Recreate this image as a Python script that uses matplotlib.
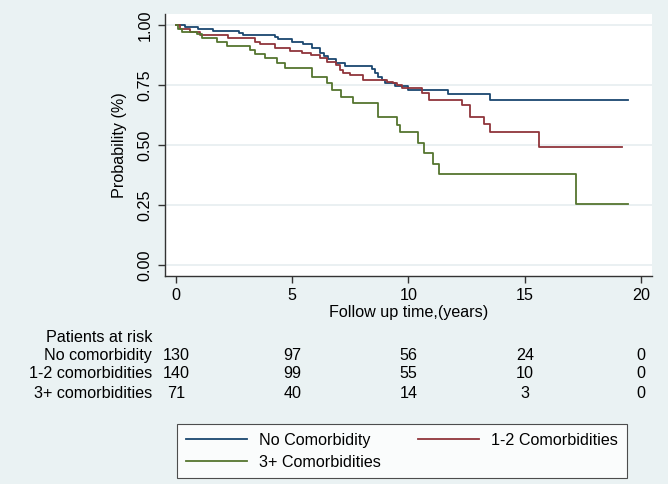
import matplotlib
matplotlib.use("Agg")
import matplotlib.pyplot as plt
from matplotlib.transforms import blended_transform_factory

plt.rcParams['font.family'] = ['Liberation Sans', 'DejaVu Sans']

# Kaplan-Meier steps (time in years, survival)
none_t = [0, 0.4, 0.95, 1.6, 2.7, 2.9, 4.26, 4.4, 5.0, 5.47, 5.84, 6.19, 6.35, 6.55, 6.9, 7.27,
          8.42, 8.55, 8.7, 8.85, 9.0, 9.4, 10.0, 11.7, 13.5, 19.43]
none_s = [1.0, 0.993, 0.983, 0.975, 0.968, 0.960, 0.949, 0.940, 0.930, 0.921, 0.903, 0.885, 0.871,
          0.857, 0.843, 0.829, 0.815, 0.799, 0.785, 0.771, 0.76, 0.746, 0.729, 0.712, 0.687, 0.687]

mid_t = [0, 0.17, 0.6, 1.03, 2.25, 3.4, 3.6, 4.26, 4.9, 5.4, 5.8, 6.2, 6.5, 6.9, 7.05, 7.2, 7.5,
         8.05, 9.06, 9.35, 9.5, 9.7, 10.57, 10.9, 12.3, 12.65, 13.25, 13.5, 15.6, 19.17]
mid_s = [1.0, 0.982, 0.972, 0.958, 0.944, 0.930, 0.919, 0.903, 0.893, 0.882, 0.875, 0.861, 0.847,
         0.833, 0.8125, 0.799, 0.792, 0.771, 0.764, 0.757, 0.75, 0.736, 0.718, 0.6875, 0.667, 0.618,
         0.587, 0.553, 0.49, 0.49]

high_t = [0, 0.1, 0.25, 0.9, 1.1, 1.75, 2.2, 3.2, 3.4, 3.83, 4.33, 4.7, 5.84, 6.5, 6.7, 7.1, 7.63,
          8.7, 9.5, 9.63, 10.4, 10.67, 11.07, 11.33, 17.2, 19.44]
high_s = [1.0, 0.982, 0.972, 0.961, 0.944, 0.930, 0.9125, 0.896, 0.879, 0.861, 0.843, 0.819, 0.785,
          0.757, 0.729, 0.702, 0.675, 0.615, 0.585, 0.553, 0.507, 0.465, 0.42, 0.38, 0.253, 0.253]

# numbers at risk
risk_times = [0, 5, 10, 15, 20]
risk_rows = ['No comorbidity', '1-2 comorbidities', '3+ comorbidities']
risk_none = [130, 97, 56, 24, 0]
risk_mid = [140, 99, 55, 10, 0]
risk_high = [71, 40, 14, 3, 0]

legend_labels = ['No Comorbidity', '1-2 Comorbidities', '3+ Comorbidities']

fs = 11.6
bg = '#eaf2f3'
fig = plt.figure(figsize=(6.68, 4.84), dpi=100, facecolor=bg)
ax = fig.add_axes([0.247, 0.4298, 0.729, 0.5413])
ax.set_facecolor('white')

l1, = ax.step(none_t, none_s, where='post', color='#1a476f', lw=1.3)
l2, = ax.step(mid_t, mid_s, where='post', color='#90353b', lw=1.3)
l3, = ax.step(high_t, high_s, where='post', color='#55752f', lw=1.3)

ax.set_xlim(-0.47, 20.47)
ax.set_ylim(-0.046, 1.046)
ax.set_xticks([0, 5, 10, 15, 20])
ax.set_yticks([0, 0.25, 0.5, 0.75, 1.0])
ax.set_yticklabels(['0.00', '0.25', '0.50', '0.75', '1.00'], rotation=90, va='center')
ax.tick_params(axis='both', labelsize=fs, length=5, color='#333333', width=1)
ax.tick_params(axis='x', pad=4)
ax.tick_params(axis='y', pad=4)
ax.grid(axis='y', color='#e8eff1', lw=1.3)
ax.set_axisbelow(True)
for s in ['top', 'right']:
    ax.spines[s].set_visible(False)
for s in ['left', 'bottom']:
    ax.spines[s].set_color('#333333')
    ax.spines[s].set_linewidth(1)

ax.set_ylabel('Probability (%)', fontsize=fs)
ax.yaxis.set_label_coords(-0.077, 0.5)
ax.set_xlabel('Follow up time,(years)', fontsize=fs)
ax.xaxis.set_label_coords(0.5, -0.11)

# risk table under the plot
tr = blended_transform_factory(ax.transData, fig.transFigure)
fig.text(0.2275, 0.3037, 'Patients at risk', ha='right', va='center', fontsize=fs)
row_y = [0.2665, 0.2273, 0.188]
for name, vals, y in zip(risk_rows, [risk_none, risk_mid, risk_high], row_y):
    fig.text(0.2275, y, name, ha='right', va='center', fontsize=fs)
    for t, v in zip(risk_times, vals):
        ax.text(t, y, str(v), transform=tr, ha='center', va='center', fontsize=fs)

# legend filled column by column, so order it to read row-wise
leg = fig.legend([l1, l3, l2], [legend_labels[0], legend_labels[2], legend_labels[1]],
                 ncol=2, loc='upper left', bbox_to_anchor=(0.265, 0.124),
                 fontsize=fs, frameon=True, fancybox=False, handlelength=3.8,
                 handletextpad=0.75, borderaxespad=0, labelspacing=0.42,
                 columnspacing=2.3, borderpad=0.55)
leg.get_frame().set_edgecolor('#222222')
leg.get_frame().set_linewidth(0.8)

fig.savefig('out.png', dpi=100, facecolor=bg)
